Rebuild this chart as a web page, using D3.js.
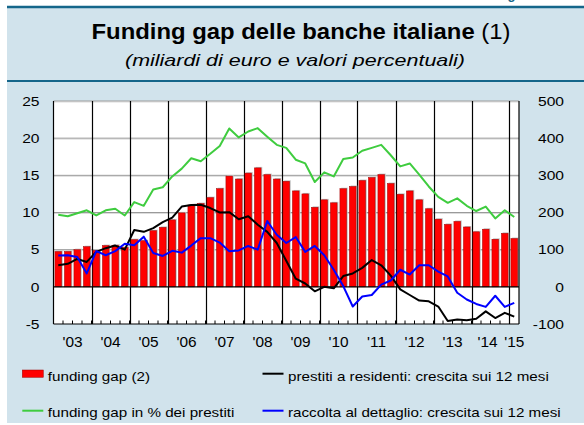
<!DOCTYPE html>
<html><head><meta charset="utf-8">
<script src="https://cdn.jsdelivr.net/npm/d3@7"></script>
<style>
html,body{margin:0;padding:0;background:#fff;}
svg{display:block;font-family:"Liberation Sans",Arial,Helvetica,sans-serif;}
</style></head>
<body>
<svg id="c" width="584" height="425"></svg>
<script>
// ---------------- data ----------------
const quarters = ["2003Q1","2003Q2","2003Q3","2003Q4","2004Q1","2004Q2","2004Q3","2004Q4",
"2005Q1","2005Q2","2005Q3","2005Q4","2006Q1","2006Q2","2006Q3","2006Q4",
"2007Q1","2007Q2","2007Q3","2007Q4","2008Q1","2008Q2","2008Q3","2008Q4",
"2009Q1","2009Q2","2009Q3","2009Q4","2010Q1","2010Q2","2010Q3","2010Q4",
"2011Q1","2011Q2","2011Q3","2011Q4","2012Q1","2012Q2","2012Q3","2012Q4",
"2013Q1","2013Q2","2013Q3","2013Q4","2014Q1","2014Q2","2014Q3","2014Q4","2015Q1"];
const yearLabels = ["'03","'04","'05","'06","'07","'08","'09","'10","'11","'12","'13","'14","'15"];
const leftTicks = [-5,0,5,10,15,20,25];
const rightTicks = [-100,0,100,200,300,400,500];
// funding gap, billions of euro (right axis)
const fundingGap = [95,95,100,108,98,111,112,106,127,124,151,160,180,199,220,224,
240,264,298,290,306,320,302,290,284,258,250,214,234,226,264,270,
286,294,302,278,249,258,234,210,182,168,176,161,148,155,128,144,130];
// funding gap as % of loans (left axis)
const fundingGapPct = [9.7,9.5,9.9,10.3,9.6,10.3,10.5,9.6,11.4,10.9,13.1,13.4,14.85,15.9,17.3,16.9,
17.9,18.95,21.3,20.1,20.9,21.35,20.2,19.1,18.7,17.1,16.6,14.1,15.4,14.85,17.2,17.4,
18.3,18.7,19.1,17.7,16.2,16.6,15.1,13.5,12.1,11.3,11.9,10.9,10.2,10.8,9.2,10.3,9.4];
// loans to residents, 12-month growth (left axis)
const loansGrowth = [2.9,3.1,3.75,3.35,4.7,5.2,5.55,5.0,7.65,7.4,7.9,8.7,9.3,10.8,11.0,11.05,
10.6,10.0,10.05,9.1,9.5,8.35,7.4,5.9,3.5,1.1,0.45,-0.6,0.0,-0.2,1.45,1.8,
2.55,3.6,2.9,1.5,-0.35,-1.1,-1.85,-1.95,-2.65,-4.6,-4.4,-4.5,-4.3,-3.3,-4.2,-3.5,-4.0];
// retail funding, 12-month growth (left axis)
const retailGrowth = [4.2,4.25,4.0,1.8,4.8,4.25,4.8,5.8,5.6,6.75,4.55,4.15,4.85,4.6,5.55,6.55,
6.55,5.95,4.8,4.9,5.5,5.0,8.85,7.0,5.9,6.7,4.7,5.5,4.25,2.3,0.1,-2.65,
-1.3,-1.1,0.3,0.85,2.3,1.65,2.9,2.9,2.05,1.4,-0.8,-1.7,-2.3,-2.7,-1.2,-2.7,-2.15];
const legendItems = [
  {label:"funding gap (2)", type:"bar", color:"#ff0000"},
  {label:"prestiti a residenti: crescita sui 12 mesi", type:"line", color:"#000000"},
  {label:"funding gap in % dei prestiti", type:"line", color:"#3fcc3f"},
  {label:"raccolta al dettaglio: crescita sui 12 mesi", type:"line", color:"#0000ff"}
];

// ---------------- layout ----------------
const svg = d3.select("#c");
const L = 53.5, R = 519, T = 101, B = 324;
const teal = "#15668a";

svg.append("rect").attr("x",7).attr("y",7).attr("width",577).attr("height",416).attr("fill","#d1e3ec");
svg.append("line").attr("x1",7).attr("x2",584).attr("y1",7).attr("y2",7).attr("stroke",teal).attr("stroke-width",2.5);
svg.append("line").attr("x1",7).attr("x2",584).attr("y1",81).attr("y2",81).attr("stroke",teal).attr("stroke-width",2);
// page figure label, mostly above the visible area (as in the reference)
svg.append("text").attr("x",496).attr("y",-1).attr("fill",teal).attr("font-weight","bold")
  .attr("font-size",13).text("Figura 3.10");

// title
const title = svg.append("text").attr("x",91.5).attr("y",39.3).attr("font-size",21.4)
  .attr("textLength",419).attr("lengthAdjust","spacingAndGlyphs").attr("fill","#000");
title.append("tspan").attr("font-weight","bold").text("Funding gap delle banche italiane ");
title.append("tspan").text("(1)");
svg.append("text").attr("x",125).attr("y",65.7).attr("font-size",17).attr("font-style","italic")
  .attr("textLength",340).attr("lengthAdjust","spacingAndGlyphs").text("(miliardi di euro e valori percentuali)");

// scales
const xi = d3.scaleLinear().domain([0, quarters.length]).range([L, R]);
const step = xi(1) - xi(0);
const xc = i => xi(i + 0.5);
const yL = d3.scaleLinear().domain([-5,25]).range([B,T]);
const yR = d3.scaleLinear().domain([-100,500]).range([B,T]);

// plot background
svg.append("rect").attr("x",L).attr("y",T).attr("width",R-L).attr("height",B-T).attr("fill","#fff");

// gridlines
leftTicks.filter(v => v > 0).forEach(v => {
  svg.append("line").attr("x1",L).attr("x2",R).attr("y1",yL(v)+1).attr("y2",yL(v)+1).attr("stroke","#dcdcdc").attr("stroke-width",1);
  svg.append("line").attr("x1",L).attr("x2",R).attr("y1",yL(v)).attr("y2",yL(v)).attr("stroke","#9a9a9a").attr("stroke-width",1);
});

// year separators
for (let k = 4; k < quarters.length; k += 4) {
  svg.append("line").attr("x1",Math.round(xi(k))+0.5).attr("x2",Math.round(xi(k))+0.5).attr("y1",T).attr("y2",B)
    .attr("stroke","#000").attr("stroke-width",1.2);
}

// bars (right axis)
const bw = step * 0.7;
const bars = svg.append("g");
bars.selectAll("rect.sh").data(fundingGap).join("rect").attr("class","sh")
  .attr("x",(d,i)=>xc(i)-bw/2+1.2).attr("y",d=>yR(d)-1).attr("width",bw).attr("height",d=>yR(0)-yR(d)+1)
  .attr("fill","#c4c4c4");
bars.selectAll("rect.b").data(fundingGap).join("rect").attr("class","b")
  .attr("x",(d,i)=>xc(i)-bw/2).attr("y",d=>yR(d)).attr("width",bw).attr("height",d=>yR(0)-yR(d))
  .attr("fill","#ff0000").attr("stroke","#a00000").attr("stroke-width",0.5);

// zero line
svg.append("line").attr("x1",L).attr("x2",R).attr("y1",yL(0)).attr("y2",yL(0)).attr("stroke","#000").attr("stroke-width",1.2);

// lines (left axis)
const line = d3.line().x((d,i)=>xc(i)).y(d=>yL(d));
[[fundingGapPct,"#3fcc3f"],[loansGrowth,"#000000"],[retailGrowth,"#0000ff"]].forEach(([s,c]) => {
  svg.append("path").attr("d",line(s)).attr("fill","none").attr("stroke",c).attr("stroke-width",2)
    .attr("stroke-linejoin","round");
});

// axes frame
svg.append("line").attr("x1",L).attr("x2",L).attr("y1",T).attr("y2",B).attr("stroke","#000").attr("stroke-width",1.2);
svg.append("line").attr("x1",R).attr("x2",R).attr("y1",T).attr("y2",B).attr("stroke","#000").attr("stroke-width",1.2);
svg.append("line").attr("x1",L).attr("x2",R).attr("y1",B).attr("y2",B).attr("stroke","#000").attr("stroke-width",1.2);
for (let k = 1; k < quarters.length; k++) {
  svg.append("line").attr("x1",xi(k)).attr("x2",xi(k)).attr("y1",B).attr("y2",B-3.5).attr("stroke","#000").attr("stroke-width",1);
}

// text helper with horizontal stretch
function stext(x, y, s, size, sx, anchor) {
  return svg.append("text").attr("transform",`translate(${x},${y}) scale(${sx},1)`)
    .attr("font-size",size).attr("text-anchor",anchor||"start").attr("fill","#000").text(s);
}

// y tick labels
leftTicks.forEach(v => stext(39.5, yL(v)+4.7, String(v), 13, 1.2, "end"));
rightTicks.forEach(v => stext(564, yR(v)+4.7, String(v), 13, 1.2, "end"));

// x labels
yearLabels.forEach((lab,k) => {
  const a = k*4, b = Math.min(k*4+4, quarters.length);
  const shift = (k === 11) ? -3 : 0;
  stext((xi(a)+xi(b))/2 + shift, 346.5, lab, 14, 1.1, "middle");
});

// legend
const legPos = [[22.3,373.7],[262.5,373.7],[22.3,410.7],[262.5,410.7]];
legendItems.forEach((it,i) => {
  const [x,y] = legPos[i];
  if (it.type === "bar") {
    svg.append("rect").attr("x",x).attr("y",y-3.7).attr("width",21).attr("height",7.3)
      .attr("fill",it.color).attr("stroke","#a00000").attr("stroke-width",0.5);
  } else {
    svg.append("line").attr("x1",x).attr("x2",x+21).attr("y1",y).attr("y2",y).attr("stroke",it.color).attr("stroke-width",2);
  }
  stext(x+25.5, y + (i < 2 ? 7 : 6), it.label, 13, 1.17, "start");
});
</script>
</body></html>
